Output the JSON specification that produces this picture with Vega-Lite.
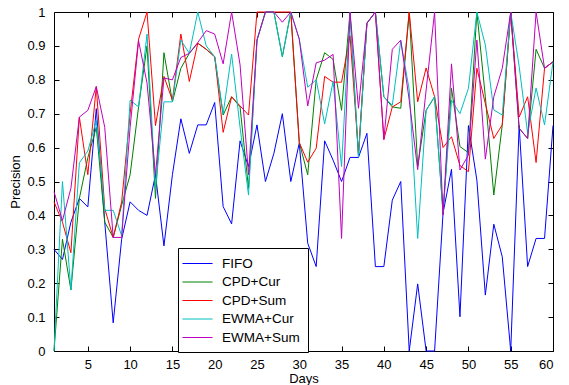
{
"$schema": "https://vega.github.io/schema/vega-lite/v6.json",
"width": 499, "height": 339,
"autosize": {"type": "none"},
"padding": {"left": 54, "top": 12, "right": 16, "bottom": 34},
"background": "white",
"config": {
 "font": "Liberation Sans",
 "view": {"stroke": "black", "strokeWidth": 1},
 "axis": {"domain": false, "grid": false, "tickColor": "black", "tickSize": -5, "labelColor": "black", "titleColor": "black", "labelFontSize": 13, "titleFontSize": 13, "titleFontWeight": "normal"},
 "legend": {"orient": "none", "legendX": 124, "legendY": 236, "fillColor": "white", "strokeColor": "black", "padding": 8, "labelFontSize": 13.5, "labelColor": "black", "symbolType": "M-2.15,0H2.15", "symbolSize": 196, "symbolStrokeWidth": 1, "symbolOffset": 4, "rowPadding": 4.5, "labelOffset": 17}
},
"data": {"values": [
{"d":1,"FIFO":0.30,"CPD+Cur":0.00,"CPD+Sum":0.44,"EWMA+Cur":0.00,"EWMA+Sum":0.47},
{"d":2,"FIFO":0.27,"CPD+Cur":0.33,"CPD+Sum":0.38,"EWMA+Cur":0.50,"EWMA+Sum":0.385},
{"d":3,"FIFO":0.38,"CPD+Cur":0.18,"CPD+Sum":0.29,"EWMA+Cur":0.18,"EWMA+Sum":0.48},
{"d":4,"FIFO":0.45,"CPD+Cur":0.45,"CPD+Sum":0.69,"EWMA+Cur":0.555,"EWMA+Sum":0.69},
{"d":5,"FIFO":0.425,"CPD+Cur":0.57,"CPD+Sum":0.52,"EWMA+Cur":0.59,"EWMA+Sum":0.71},
{"d":6,"FIFO":0.715,"CPD+Cur":0.66,"CPD+Sum":0.78,"EWMA+Cur":0.68,"EWMA+Sum":0.78},
{"d":7,"FIFO":0.38,"CPD+Cur":0.38,"CPD+Sum":0.42,"EWMA+Cur":0.415,"EWMA+Sum":0.66},
{"d":8,"FIFO":0.083,"CPD+Cur":0.335,"CPD+Sum":0.335,"EWMA+Cur":0.415,"EWMA+Sum":0.335},
{"d":9,"FIFO":0.33,"CPD+Cur":0.43,"CPD+Sum":0.44,"EWMA+Cur":0.34,"EWMA+Sum":0.335},
{"d":10,"FIFO":0.44,"CPD+Cur":0.52,"CPD+Sum":0.70,"EWMA+Cur":0.74,"EWMA+Sum":0.66},
{"d":11,"FIFO":0.415,"CPD+Cur":0.72,"CPD+Sum":0.92,"EWMA+Cur":0.72,"EWMA+Sum":0.915},
{"d":12,"FIFO":0.40,"CPD+Cur":0.90,"CPD+Sum":1.00,"EWMA+Cur":0.935,"EWMA+Sum":0.79},
{"d":13,"FIFO":0.52,"CPD+Cur":0.45,"CPD+Sum":0.665,"EWMA+Cur":0.48,"EWMA+Sum":0.52},
{"d":14,"FIFO":0.31,"CPD+Cur":0.88,"CPD+Sum":0.81,"EWMA+Cur":0.735,"EWMA+Sum":0.805},
{"d":15,"FIFO":0.52,"CPD+Cur":0.735,"CPD+Sum":0.74,"EWMA+Cur":0.735,"EWMA+Sum":0.80},
{"d":16,"FIFO":0.685,"CPD+Cur":0.834,"CPD+Sum":0.935,"EWMA+Cur":0.917,"EWMA+Sum":0.866},
{"d":17,"FIFO":0.583,"CPD+Cur":0.878,"CPD+Sum":0.795,"EWMA+Cur":0.878,"EWMA+Sum":0.878},
{"d":18,"FIFO":0.667,"CPD+Cur":0.908,"CPD+Sum":0.908,"EWMA+Cur":1.00,"EWMA+Sum":0.91},
{"d":19,"FIFO":0.667,"CPD+Cur":0.89,"CPD+Sum":0.89,"EWMA+Cur":0.90,"EWMA+Sum":0.945},
{"d":20,"FIFO":0.733,"CPD+Cur":0.868,"CPD+Sum":0.868,"EWMA+Cur":0.868,"EWMA+Sum":0.935},
{"d":21,"FIFO":0.426,"CPD+Cur":0.696,"CPD+Sum":0.645,"EWMA+Cur":0.70,"EWMA+Sum":0.847},
{"d":22,"FIFO":0.375,"CPD+Cur":0.75,"CPD+Sum":0.75,"EWMA+Cur":0.876,"EWMA+Sum":1.00},
{"d":23,"FIFO":0.62,"CPD+Cur":0.72,"CPD+Sum":0.723,"EWMA+Cur":0.66,"EWMA+Sum":0.844},
{"d":24,"FIFO":0.544,"CPD+Cur":0.48,"CPD+Sum":0.696,"EWMA+Cur":0.46,"EWMA+Sum":0.52},
{"d":25,"FIFO":0.667,"CPD+Cur":0.917,"CPD+Sum":1.0,"EWMA+Cur":0.917,"EWMA+Sum":0.917},
{"d":26,"FIFO":0.50,"CPD+Cur":1.0,"CPD+Sum":1.0,"EWMA+Cur":1.0,"EWMA+Sum":1.0},
{"d":27,"FIFO":0.583,"CPD+Cur":1.0,"CPD+Sum":1.0,"EWMA+Cur":1.0,"EWMA+Sum":1.0},
{"d":28,"FIFO":0.70,"CPD+Cur":0.868,"CPD+Sum":1.0,"EWMA+Cur":0.868,"EWMA+Sum":0.97},
{"d":29,"FIFO":0.50,"CPD+Cur":1.0,"CPD+Sum":1.0,"EWMA+Cur":1.0,"EWMA+Sum":1.0},
{"d":30,"FIFO":0.613,"CPD+Cur":0.615,"CPD+Sum":0.615,"EWMA+Cur":0.92,"EWMA+Sum":0.92},
{"d":31,"FIFO":0.318,"CPD+Cur":0.52,"CPD+Sum":0.557,"EWMA+Cur":0.778,"EWMA+Sum":0.723},
{"d":32,"FIFO":0.249,"CPD+Cur":0.80,"CPD+Sum":0.598,"EWMA+Cur":0.80,"EWMA+Sum":0.85},
{"d":33,"FIFO":0.62,"CPD+Cur":0.88,"CPD+Sum":0.81,"EWMA+Cur":0.67,"EWMA+Sum":0.858},
{"d":34,"FIFO":0.563,"CPD+Cur":0.86,"CPD+Sum":0.793,"EWMA+Cur":0.795,"EWMA+Sum":0.875},
{"d":35,"FIFO":0.50,"CPD+Cur":0.71,"CPD+Sum":0.793,"EWMA+Cur":0.544,"EWMA+Sum":0.332},
{"d":36,"FIFO":0.571,"CPD+Cur":1.0,"CPD+Sum":0.93,"EWMA+Cur":1.0,"EWMA+Sum":1.0},
{"d":37,"FIFO":0.571,"CPD+Cur":0.573,"CPD+Sum":0.583,"EWMA+Cur":0.573,"EWMA+Sum":0.716},
{"d":38,"FIFO":0.642,"CPD+Cur":0.967,"CPD+Sum":0.967,"EWMA+Cur":0.967,"EWMA+Sum":0.967},
{"d":39,"FIFO":0.249,"CPD+Cur":1.0,"CPD+Sum":1.0,"EWMA+Cur":1.0,"EWMA+Sum":1.0},
{"d":40,"FIFO":0.249,"CPD+Cur":0.75,"CPD+Sum":0.624,"EWMA+Cur":0.75,"EWMA+Sum":0.624},
{"d":41,"FIFO":0.445,"CPD+Cur":0.72,"CPD+Sum":0.72,"EWMA+Cur":0.725,"EWMA+Sum":0.89},
{"d":42,"FIFO":0.50,"CPD+Cur":0.716,"CPD+Sum":0.735,"EWMA+Cur":0.915,"EWMA+Sum":0.917},
{"d":43,"FIFO":0.0,"CPD+Cur":1.0,"CPD+Sum":1.0,"EWMA+Cur":0.77,"EWMA+Sum":0.74},
{"d":44,"FIFO":0.198,"CPD+Cur":0.545,"CPD+Sum":0.735,"EWMA+Cur":0.332,"EWMA+Sum":0.535},
{"d":45,"FIFO":0.0,"CPD+Cur":0.71,"CPD+Sum":0.835,"EWMA+Cur":0.71,"EWMA+Sum":0.77},
{"d":46,"FIFO":0.0,"CPD+Cur":0.75,"CPD+Sum":0.75,"EWMA+Cur":0.75,"EWMA+Sum":1.0},
{"d":47,"FIFO":0.407,"CPD+Cur":0.405,"CPD+Sum":0.60,"EWMA+Cur":0.41,"EWMA+Sum":0.401},
{"d":48,"FIFO":0.536,"CPD+Cur":0.775,"CPD+Sum":0.632,"EWMA+Cur":0.74,"EWMA+Sum":0.847},
{"d":49,"FIFO":0.101,"CPD+Cur":0.603,"CPD+Sum":0.547,"EWMA+Cur":0.70,"EWMA+Sum":0.534},
{"d":50,"FIFO":0.665,"CPD+Cur":0.585,"CPD+Sum":0.529,"EWMA+Cur":0.775,"EWMA+Sum":0.578},
{"d":51,"FIFO":0.504,"CPD+Cur":1.0,"CPD+Sum":0.834,"EWMA+Cur":1.0,"EWMA+Sum":0.917},
{"d":52,"FIFO":0.165,"CPD+Cur":0.75,"CPD+Sum":0.73,"EWMA+Cur":0.903,"EWMA+Sum":0.566},
{"d":53,"FIFO":0.374,"CPD+Cur":0.46,"CPD+Sum":0.627,"EWMA+Cur":0.711,"EWMA+Sum":0.75},
{"d":54,"FIFO":0.278,"CPD+Cur":0.667,"CPD+Sum":0.667,"EWMA+Cur":0.696,"EWMA+Sum":0.834},
{"d":55,"FIFO":0.0,"CPD+Cur":1.0,"CPD+Sum":1.0,"EWMA+Cur":1.0,"EWMA+Sum":1.0},
{"d":56,"FIFO":0.665,"CPD+Cur":0.657,"CPD+Sum":0.69,"EWMA+Cur":0.84,"EWMA+Sum":0.657},
{"d":57,"FIFO":0.249,"CPD+Cur":0.627,"CPD+Sum":0.75,"EWMA+Cur":0.642,"EWMA+Sum":0.627},
{"d":58,"FIFO":0.332,"CPD+Cur":0.89,"CPD+Sum":0.556,"EWMA+Cur":0.776,"EWMA+Sum":1.0},
{"d":59,"FIFO":0.332,"CPD+Cur":0.834,"CPD+Sum":0.834,"EWMA+Cur":0.667,"EWMA+Sum":0.834},
{"d":60,"FIFO":0.665,"CPD+Cur":0.853,"CPD+Sum":0.853,"EWMA+Cur":0.853,"EWMA+Sum":0.853}
]},
"transform": [{"fold": ["FIFO", "CPD+Cur", "CPD+Sum", "EWMA+Cur", "EWMA+Sum"], "as": ["series", "precision"]}],
"layer": [
 {
  "mark": {"type": "line", "strokeWidth": 1},
  "encoding": {
   "x": {"field": "d", "type": "quantitative", "scale": {"domain": [1, 60], "nice": false}, "axis": {"orient": "bottom", "values": [5,10,15,20,25,30,35,40,45,50,55,60], "title": "Days", "labelPadding": 12, "titlePadding": 1}},
   "y": {"field": "precision", "type": "quantitative", "scale": {"domain": [0, 1], "nice": false}, "axis": {"orient": "left", "values": [0,0.1,0.2,0.3,0.4,0.5,0.6,0.7,0.8,0.9,1], "format": ".1~f", "title": "Precision", "labelPadding": 14, "titlePadding": 4}},
   "color": {"field": "series", "type": "nominal", "sort": ["FIFO", "CPD+Cur", "CPD+Sum", "EWMA+Cur", "EWMA+Sum"], "scale": {"domain": ["FIFO", "CPD+Cur", "CPD+Sum", "EWMA+Cur", "EWMA+Sum"], "range": ["#0000ff", "#008000", "#ff0000", "#00bfbf", "#bf00bf"]}, "legend": {"title": null}}
  }
 },
 {
  "mark": {"type": "line", "opacity": 0},
  "encoding": {
   "x": {"field": "d", "type": "quantitative", "axis": {"orient": "top", "values": [5,10,15,20,25,30,35,40,45,50,55,60], "labels": false, "title": null}},
   "y": {"field": "precision", "type": "quantitative", "axis": {"orient": "right", "values": [0,0.1,0.2,0.3,0.4,0.5,0.6,0.7,0.8,0.9,1], "labels": false, "title": null}},
   "detail": {"field": "series"}
  }
 }
],
"resolve": {"axis": {"x": "independent", "y": "independent"}}
}
